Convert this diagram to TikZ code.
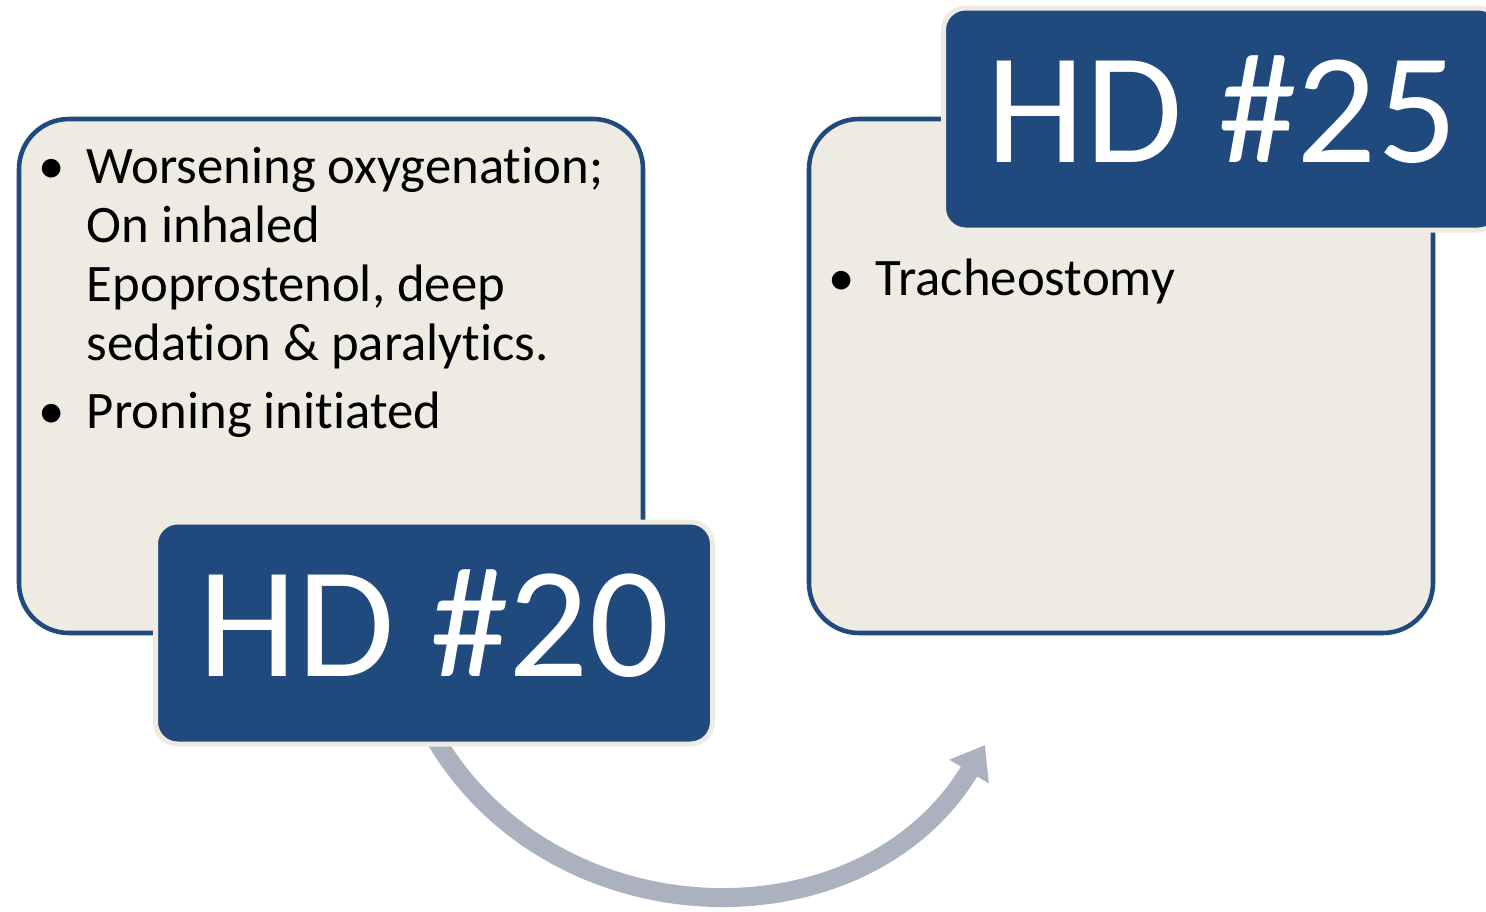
\documentclass[tikz,border=0pt]{standalone}
\usepackage{fontspec}
\setmainfont{Carlito}[Ligatures={NoCommon}]
\usepackage{xcolor}
\usetikzlibrary{arrows.meta,positioning,backgrounds}

\definecolor{hdblue}{RGB}{32,74,125}
\definecolor{cardfill}{RGB}{238,236,226}
\definecolor{flowgray}{RGB}{172,177,191}

\begin{document}
\begin{tikzpicture}[
    card/.style={draw=hdblue, line width=1.3pt, fill=cardfill, rounded corners=0.5cm, minimum width=6.24cm, minimum height=5.14cm, inner sep=0pt, outer sep=0pt},
    tag/.style={draw=cardfill, line width=0.05cm, fill=hdblue, rounded corners=0.22cm, minimum width=5.57cm, minimum height=2.22cm, text=white, text height=1.0cm, text depth=0.14cm, font=\fontsize{45}{54}\selectfont},
    notes/.style={anchor=base west, inner sep=0pt, font=\fontsize{15}{16.8}\selectfont},
    arr/.style={-{Triangle[width=0.44cm, length=0.31cm]}, line width=0.19cm, draw=flowgray}
]
\useasboundingbox (0,0) rectangle (14.86,9.11);
\clip (0,0) rectangle (14.86,9.11);

\node[card] (card20) at (3.31,5.35) {};
\node[card] (card25) at (11.21,5.35) {};

\node[tag, anchor=east] (hd20) at ([xshift=0.72cm]card20.south east) {HD \#20};
\node[tag, anchor=east] (hd25) at ([xshift=0.70cm]card25.north east) {HD \#25};

\node[notes] (list20) at (0.38,7.28) {%
  \begin{tabular}[t]{@{}l@{\hspace{0.22cm}}l@{}}
  \textbullet & Worsening oxygenation;\\
              & On inhaled\\
              & Epoprostenol, deep\\
              & sedation \& paralytics.\\[0.09cm]
  \textbullet & Proning initiated
  \end{tabular}};
\node[notes] (list25) at (8.28,6.16) {%
  \begin{tabular}[t]{@{}l@{\hspace{0.21cm}}l@{}}
  \textbullet & Tracheostomy
  \end{tabular}};

\coordinate (tip) at (9.85,1.66);
\begin{scope}[on background layer]
\draw[arr] ([yshift=0.1cm]hd20.south) to[out=-60, in=239, looseness=1.1] (tip);
\end{scope}
\end{tikzpicture}
\end{document}
